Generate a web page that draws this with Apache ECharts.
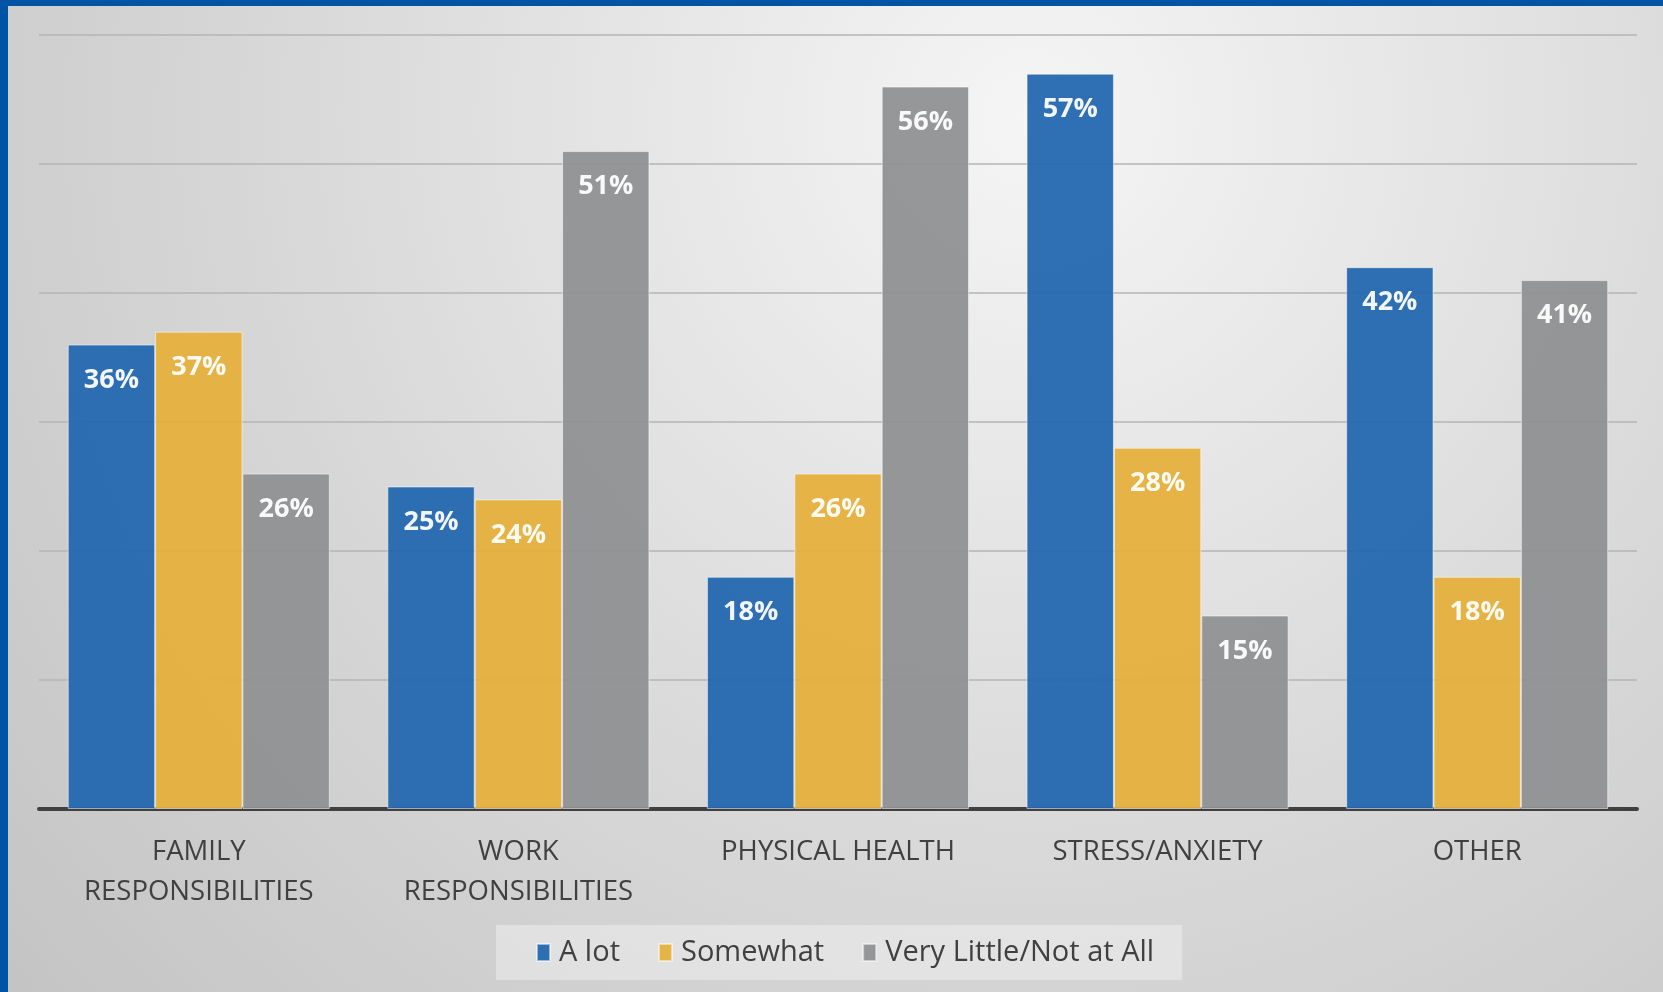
<!DOCTYPE html>
<html>
<head>
<meta charset="utf-8">
<script src="https://cdn.jsdelivr.net/npm/echarts@6/dist/echarts.min.js"></script>
<style>
html,body{margin:0;padding:0;width:1663px;height:992px;overflow:hidden;}
#chart{width:1663px;height:992px;}
</style>
</head>
<body>
<div id="chart"></div>
<script>
const categories = ['FAMILY\nRESPONSIBILITIES', 'WORK\nRESPONSIBILITIES', 'PHYSICAL HEALTH', 'STRESS/ANXIETY', 'OTHER'];
const seriesNames = ['A lot', 'Somewhat', 'Very Little/Not at All'];
const aLot = [36, 25, 18, 57, 42];
const somewhat = [37, 24, 26, 28, 18];
const veryLittle = [26, 51, 56, 15, 41];
const colors = ['#2266ae', '#e5b03c', '#8e9092'];

const chart = echarts.init(document.getElementById('chart'));
const font = '"Open Sans", sans-serif';
function mk(name, data, color) {
  return {
    name: name,
    type: 'bar',
    data: data,
    barGap: '0%',
    barCategoryGap: '18%',
    itemStyle: { color: color, opacity: 0.94, borderColor: 'rgba(255,255,255,0.55)', borderWidth: 1 },
    label: {
      show: true, position: 'insideTop', distance: 22,
      formatter: '{c}%', color: '#ffffff', fontWeight: 'bold',
      fontSize: 27, fontFamily: font
    }
  };
}
chart.setOption({
  backgroundColor: {
    type: 'radial', x: 0.62, y: 0.12, r: 1.35,
    colorStops: [{ offset: 0, color: '#f5f5f5' }, { offset: 0.6, color: '#d6d6d6' }, { offset: 1, color: '#c4c4c4' }]
  },
  color: colors,
  animation: false,
  graphic: [
    { type: 'rect', left: 0, top: 0, shape: { width: 1663, height: 6 }, style: { fill: '#0054a4' } },
    { type: 'rect', left: 0, top: 0, shape: { width: 8, height: 992 }, style: { fill: '#0054a4' } }
  ],
  grid: { left: 39, right: 26, top: 35, bottom: 183, containLabel: false },
  legend: {
    left: 496, top: 925,
    padding: [13, 28, 13, 40],
    backgroundColor: 'rgba(255,255,255,0.35)',
    itemWidth: 13, itemHeight: 17, itemGap: 38,
    icon: 'rect',
    textStyle: { color: '#404040', fontSize: 29, fontFamily: font, padding: [0, 0, 0, 4] },
    data: seriesNames
  },
  xAxis: {
    type: 'category', data: categories,
    axisLine: { lineStyle: { color: '#404040', width: 4 } },
    axisTick: { show: false },
    axisLabel: { color: '#404040', fontSize: 27.5, fontFamily: font, lineHeight: 40, margin: 23, interval: 0 }
  },
  yAxis: {
    type: 'value', min: 0, max: 60, interval: 10,
    axisLabel: { show: false }, axisLine: { show: false }, axisTick: { show: false },
    splitLine: { lineStyle: { color: '#b5b5b5', width: 1.5 } }
  },
  series: [
    mk(seriesNames[0], aLot, colors[0]),
    mk(seriesNames[1], somewhat, colors[1]),
    mk(seriesNames[2], veryLittle, colors[2])
  ]
});
</script>
</body>
</html>
